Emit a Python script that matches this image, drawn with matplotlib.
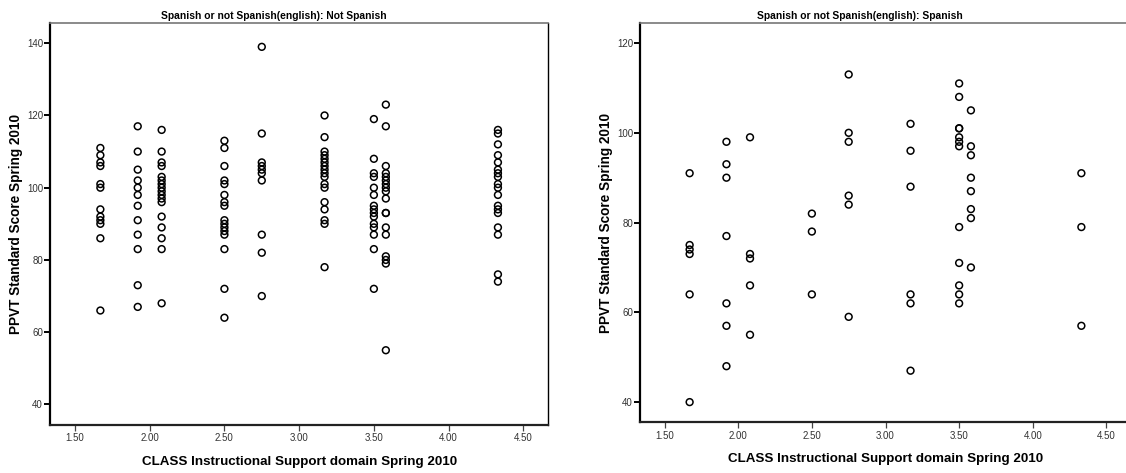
import matplotlib
matplotlib.use("Agg")
import matplotlib.pyplot as plt
import matplotlib.font_manager as fm
from matplotlib.ticker import FormatStrFormatter
import numpy as np

# CLASS Instructional Support levels (x columns)
class_levels = [1.67, 1.92, 2.08, 2.50, 2.75, 3.17, 3.50, 3.58, 4.33]

# PPVT scores per column, Not Spanish group
not_spanish_scores = [
    [111, 109, 107, 106, 101, 100, 94, 92, 91, 90, 86, 66],
    [117, 110, 105, 102, 100, 98, 95, 91, 87, 83, 73, 67],
    [116, 110, 107, 106, 103, 102, 101, 100, 99, 98, 97, 96, 92, 89, 86, 83, 68],
    [113, 111, 106, 102, 101, 98, 96, 95, 91, 90, 89, 88, 87, 83, 72, 64],
    [139, 115, 107, 106, 105, 104, 102, 87, 82, 70],
    [120, 114, 110, 109, 108, 107, 106, 105, 104, 103, 101, 100, 96, 94, 91, 90, 78],
    [119, 108, 104, 103, 100, 98, 95, 94, 93, 92, 90, 89, 87, 83, 72],
    [123, 117, 106, 104, 103, 102, 101, 100, 99, 97, 93, 93, 89, 87, 81, 80, 79, 55],
    [116, 115, 112, 109, 107, 105, 104, 103, 101, 100, 98, 95, 94, 93, 89, 87, 76, 74],
]

# PPVT scores per column, Spanish group
spanish_scores = [
    [91, 75, 74, 73, 64, 40],
    [98, 93, 90, 77, 62, 57, 48],
    [99, 73, 72, 66, 55],
    [82, 78, 64],
    [113, 100, 98, 86, 84, 59],
    [102, 96, 88, 64, 62, 47],
    [111, 108, 101, 101, 99, 98, 97, 79, 71, 66, 64, 62],
    [105, 97, 95, 90, 87, 83, 81, 70],
    [91, 79, 57],
]

panel_titles = ["Spanish or not Spanish(english): Not Spanish",
                "Spanish or not Spanish(english): Spanish"]
x_label = "CLASS Instructional Support domain Spring 2010"
y_label = "PPVT Standard Score Spring 2010"
x_ticks = [1.5, 2.0, 2.5, 3.0, 3.5, 4.0, 4.5]
left_yticks = [40, 60, 80, 100, 120, 140]
right_yticks = [40, 60, 80, 100, 120]

installed = {f.name for f in fm.fontManager.ttflist}
narrow = "Liberation Sans Narrow" if "Liberation Sans Narrow" in installed else "Liberation Sans"

W, H = 1126, 473
fig = plt.figure(figsize=(W / 100, H / 100), dpi=100)


def px_axes(x0, y0, x1, y1):
    # pixel box (top-left origin) -> figure fraction
    return fig.add_axes([x0 / W, 1 - y1 / H, (x1 - x0) / W, (y1 - y0) / H])


def draw_panel(ax, scores, yticks, ylim, title, title_x, ylabel_x):
    xs = np.concatenate([[lv] * len(s) for lv, s in zip(class_levels, scores)])
    ys = np.concatenate([s for s in scores])
    ax.scatter(xs, ys, s=24, facecolors="none", edgecolors="black", linewidths=1.1, zorder=3)

    ax.set_xlim(1.333, 4.667)
    ax.set_ylim(*ylim)
    ax.set_xticks(x_ticks)
    ax.set_yticks(yticks)
    ax.xaxis.set_major_formatter(FormatStrFormatter("%.2f"))
    ax.yaxis.set_major_formatter(FormatStrFormatter("%d"))
    ax.tick_params(axis="y", direction="out", length=4, width=1.4, color="black",
                   labelsize=7, labelcolor="#333333", pad=1)
    ax.tick_params(axis="x", direction="out", length=4, width=0.9, color="#444444",
                   labelsize=7, labelcolor="#333333", pad=2)
    for lab in ax.get_xticklabels() + ax.get_yticklabels():
        lab.set_family("Liberation Sans")

    ax.spines["left"].set_linewidth(1.6)
    ax.spines["bottom"].set_linewidth(1.6)
    ax.spines["left"].set_color("black")
    ax.spines["bottom"].set_color("#222222")
    ax.spines["top"].set_color("#777777")
    ax.spines["top"].set_linewidth(1.2)
    ax.spines["right"].set_color("black")
    ax.spines["right"].set_linewidth(1.0)

    ax.set_xlabel(x_label, fontsize=9.6, fontweight="bold", family=narrow, labelpad=9)
    ax.set_ylabel(y_label, fontsize=9.8, fontweight="bold", family=narrow)
    # ylabel anchor is its right edge on screen; put it at a fixed pixel column
    ax.yaxis.set_label_coords((ylabel_x - ax_left_px[ax]) / ax_width_px[ax], 0.5)
    fig.text(title_x / W, 1 - 16 / H, title, ha="center", va="center",
             fontsize=7.4, fontweight="bold", family=narrow)


ax_left_px = {}
ax_width_px = {}

ax1 = px_axes(50, 23, 548.3, 425)
ax_left_px[ax1], ax_width_px[ax1] = 50, 498.3
draw_panel(ax1, not_spanish_scores, left_yticks, (34.3, 145.6), panel_titles[0], 274, 23)

ax2 = px_axes(640, 23.3, 1131, 422.3)
ax_left_px[ax2], ax_width_px[ax2] = 640, 491
draw_panel(ax2, spanish_scores, right_yticks, (35.5, 124.4), panel_titles[1], 860, 613)

fig.savefig("out.png", dpi=100)
